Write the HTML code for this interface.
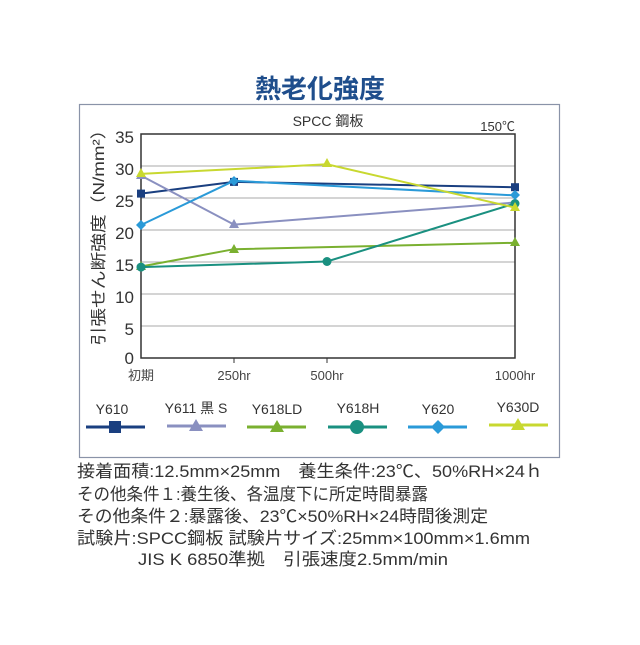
<!DOCTYPE html>
<html><head><meta charset="utf-8"><style>
body{margin:0;background:#fff;width:640px;height:640px;overflow:hidden;font-family:"Liberation Sans","Noto Sans CJK JP",sans-serif;}
</style></head><body>
<svg width="640" height="640" xmlns="http://www.w3.org/2000/svg" font-family="Liberation Sans, Noto Sans CJK JP, sans-serif">
<text x="320" y="98" text-anchor="middle" font-size="26" font-weight="bold" fill="#1f4e8c">熱老化強度</text>
<rect x="79.5" y="104.5" width="480" height="353" fill="none" stroke="#8a93a8" stroke-width="1.2"/>
<text x="328" y="126" text-anchor="middle" font-size="14" fill="#333">SPCC 鋼板</text>
<text x="515" y="131" text-anchor="end" font-size="13" fill="#333">150℃</text>
<g stroke="#aaa" stroke-width="1">
<line x1="141" y1="166" x2="515" y2="166"/><line x1="141" y1="198" x2="515" y2="198"/>
<line x1="141" y1="230" x2="515" y2="230"/><line x1="141" y1="262" x2="515" y2="262"/>
<line x1="141" y1="294" x2="515" y2="294"/><line x1="141" y1="326" x2="515" y2="326"/>
</g>
<rect x="141" y="134" width="374" height="224" fill="none" stroke="#333" stroke-width="1.5"/>
<g stroke="#333" stroke-width="1"><line x1="234" y1="358" x2="234" y2="363"/><line x1="327" y1="358" x2="327" y2="363"/></g>
<g font-size="17" fill="#333" text-anchor="end">
<text x="134" y="143">35</text><text x="134" y="175">30</text><text x="134" y="207">25</text><text x="134" y="239">20</text>
<text x="134" y="271">15</text><text x="134" y="303">10</text><text x="134" y="335">5</text><text x="134" y="364">0</text>
</g>
<g font-size="13" fill="#444" text-anchor="middle">
<text x="141" y="380">初期</text><text x="234" y="380">250hr</text><text x="327" y="380">500hr</text><text x="515" y="380">1000hr</text>
</g>
<text transform="translate(104,233) rotate(-90)" text-anchor="middle" font-size="16" fill="#333" textLength="225" lengthAdjust="spacingAndGlyphs">引張せん断強度（N/mm²）</text>
<polyline points="141,193.6 234,181.9 515,187.2" fill="none" stroke="#1a3f80" stroke-width="2"/>
<g fill="#1a3f80"><rect x="137" y="189.6" width="8" height="8"/><rect x="230" y="177.9" width="8" height="8"/><rect x="511" y="183.2" width="8" height="8"/></g>
<polyline points="141,175.6 234,224.6 515,202.5" fill="none" stroke="#8a90c0" stroke-width="2"/>
<g fill="#8a90c0"><path d="M141,170 l5,9 h-10z"/><path d="M234,219 l5,9 h-10z"/></g>
<polyline points="141,266.5 234,249.2 515,242.8" fill="none" stroke="#7ab030" stroke-width="2"/>
<g fill="#7ab030"><path d="M141,261 l5,9 h-10z"/><path d="M234,244 l5,9 h-10z"/><path d="M515,237 l5,9 h-10z"/></g>
<polyline points="141,267.1 327,261.5 515,203.5" fill="none" stroke="#1a9080" stroke-width="2"/>
<g fill="#1a9080"><circle cx="141" cy="267.1" r="4.5"/><circle cx="327" cy="261.5" r="4.5"/><circle cx="515" cy="203.5" r="4.5"/></g>
<polyline points="141,225 234,180.8 515,195.4" fill="none" stroke="#2a9ad8" stroke-width="2"/>
<g fill="#2a9ad8"><path d="M141,220 l5,5 -5,5 -5,-5z"/><path d="M234,176 l5,5 -5,5 -5,-5z"/><path d="M515,190 l5,5 -5,5 -5,-5z"/></g>
<polyline points="141,173.9 327,164.3 515,207.6" fill="none" stroke="#c8d830" stroke-width="2"/>
<g fill="#c8d830"><path d="M141,168 l5,9 h-10z"/><path d="M327,158 l5,9 h-10z"/><path d="M515,202 l5,9 h-10z"/></g>
<g font-size="14" fill="#333" text-anchor="middle">
<text x="112" y="414">Y610</text><text x="196" y="413">Y611 黒 S</text><text x="277" y="414">Y618LD</text>
<text x="358" y="413">Y618H</text><text x="438" y="414">Y620</text><text x="518" y="412">Y630D</text>
</g>
<g stroke-width="3">
<line x1="86" y1="427" x2="145" y2="427" stroke="#1a3f80"/><line x1="167" y1="426" x2="226" y2="426" stroke="#8a90c0"/>
<line x1="247" y1="427" x2="306" y2="427" stroke="#7ab030"/><line x1="328" y1="427" x2="387" y2="427" stroke="#1a9080"/>
<line x1="408" y1="427" x2="467" y2="427" stroke="#2a9ad8"/><line x1="489" y1="425" x2="548" y2="425" stroke="#c8d830"/>
</g>
<rect x="109" y="421" width="12" height="12" fill="#1a3f80"/>
<path d="M196,419 l7,12 h-14z" fill="#8a90c0"/>
<path d="M277,420 l7,12 h-14z" fill="#7ab030"/>
<circle cx="357" cy="427" r="7" fill="#1a9080"/>
<path d="M438,420 l7,7 -7,7 -7,-7z" fill="#2a9ad8"/>
<path d="M518,418 l7,12 h-14z" fill="#c8d830"/>
<g font-size="17" fill="#333" lengthAdjust="spacingAndGlyphs">
<text x="77" y="477" textLength="466" lengthAdjust="spacingAndGlyphs">接着面積:12.5mm×25mm　養生条件:23℃、50%RH×24ｈ</text>
<text x="77" y="500" textLength="351" lengthAdjust="spacingAndGlyphs">その他条件１:養生後、各温度下に所定時間暴露</text>
<text x="77" y="522" textLength="411" lengthAdjust="spacingAndGlyphs">その他条件２:暴露後、23℃×50%RH×24時間後測定</text>
<text x="77" y="544" textLength="453" lengthAdjust="spacingAndGlyphs">試験片:SPCC鋼板 試験片サイズ:25mm×100mm×1.6mm</text>
<text x="138" y="565" textLength="310" lengthAdjust="spacingAndGlyphs">JIS K 6850準拠　引張速度2.5mm/min</text>
</g>
</svg>
</body></html>
